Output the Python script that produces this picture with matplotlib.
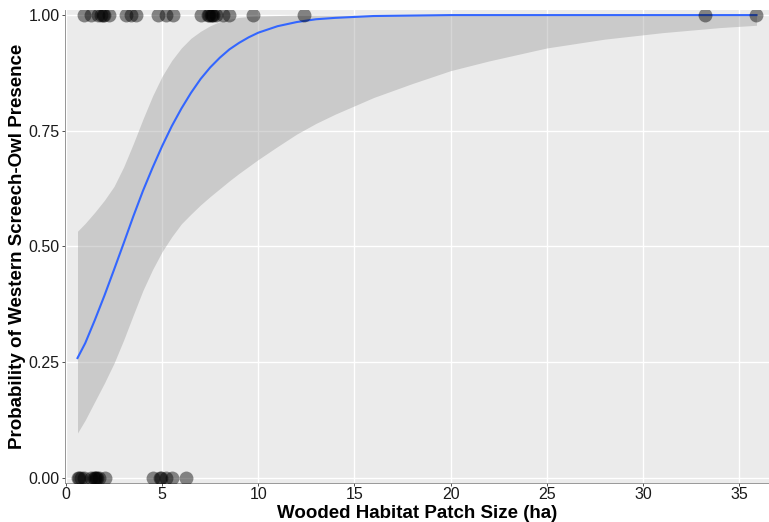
import matplotlib
matplotlib.use("Agg")
import matplotlib.pyplot as plt

# observed presence (1) / absence (0) by patch size (ha)
present_x = [0.96, 1.31, 1.66, 1.83, 1.92, 2.0, 2.26,
             3.13, 3.39, 3.65,
             4.77, 5.2, 5.55,
             7.02, 7.37, 7.45, 7.54, 7.6, 7.63, 7.8, 8.15, 8.49,
             9.71, 12.38, 33.2, 35.9]
absent_x = [0.61, 0.7, 0.78, 0.95, 1.30, 1.45, 1.5, 1.56, 1.6, 1.73, 2.04,
            4.54, 4.89, 4.95, 5.2, 5.51, 6.24]

# fitted logistic curve and 95% band
fit_x = [0.6, 1.0, 1.5, 2.0, 2.5, 3.0, 3.5, 4.0, 4.5, 5.0, 5.5, 6.0, 6.5,
         7.0, 7.5, 8.0, 8.5, 9.0, 9.5, 10.0, 11.0, 12.0, 13.0, 14.0, 16.0,
         18.0, 20.0, 22.0, 25.0, 28.0, 31.0, 34.0, 35.9]
fit_p = [0.259, 0.291, 0.341, 0.394, 0.450, 0.507, 0.565, 0.620, 0.670,
         0.717, 0.760, 0.798, 0.832, 0.862, 0.887, 0.908, 0.926, 0.940,
         0.952, 0.962, 0.976, 0.985, 0.991, 0.994, 0.998,
         0.999, 1.0, 1.0, 1.0, 1.0, 1.0, 1.0, 1.0]
upper_p = [0.533, 0.550, 0.574, 0.600, 0.630, 0.672, 0.722, 0.775, 0.825,
           0.868, 0.902, 0.929, 0.950, 0.965, 0.977, 0.986, 0.991, 0.995,
           0.997, 0.998, 0.999, 1.0, 1.0, 1.0, 1.0,
           1.0, 1.0, 1.0, 1.0, 1.0, 1.0, 1.0, 1.0]
lower_p = [0.097, 0.125, 0.165, 0.205, 0.248, 0.298, 0.352, 0.405, 0.450,
           0.489, 0.521, 0.549, 0.570, 0.590, 0.608, 0.625, 0.642, 0.658,
           0.673, 0.688, 0.716, 0.743, 0.766, 0.786, 0.822,
           0.852, 0.880, 0.901, 0.929, 0.948, 0.962, 0.973, 0.978]

fig = plt.figure(figsize=(7.69, 5.22), dpi=100)
ax = fig.add_axes([65 / 769, 1 - 483 / 522, 704 / 769, 473 / 522])
ax.set_facecolor("#EBEBEB")

ax.fill_between(fit_x, lower_p, upper_p, color="#999999", alpha=0.4,
                linewidth=0, zorder=2)
ax.plot(fit_x, fit_p, color="#3366FF", lw=1.5, zorder=3)
ax.scatter(present_x, [1] * len(present_x), s=100, color="black",
           alpha=0.45, linewidths=0, zorder=4)
ax.scatter(absent_x, [0] * len(absent_x), s=100, color="black",
           alpha=0.45, linewidths=0, zorder=4)

ax.set_xlim(-0.05, 36.55)
ax.set_ylim(-0.011, 1.011)
ax.set_xticks([0, 5, 10, 15, 20, 25, 30, 35])
ax.set_yticks([0, 0.25, 0.5, 0.75, 1.0])
ax.set_yticklabels(["0.00", "0.25", "0.50", "0.75", "1.00"])
ax.grid(True, color="white", lw=1.0, zorder=0)
ax.set_axisbelow(True)

for side in ["top", "right"]:
    ax.spines[side].set_visible(False)
for side in ["left", "bottom"]:
    ax.spines[side].set_color("#888888")
    ax.spines[side].set_linewidth(0.6)

ax.tick_params(colors="#333333", labelsize=11.5, length=2.5, width=0.6,
               labelcolor="#1a1a1a")
ax.tick_params(axis="x", pad=0.5)
ax.tick_params(axis="y", pad=1.5)
for lab in ax.get_xticklabels() + ax.get_yticklabels():
    lab.set_family("Liberation Sans")

ax.set_xlabel("Wooded Habitat Patch Size (ha)", fontsize=13.5,
              fontweight="bold", family="Liberation Sans", va="center")
ax.set_ylabel("Probability of Western Screech-Owl Presence", fontsize=13.5,
              fontweight="bold", family="Liberation Sans", va="center")
ax.xaxis.set_label_coords(0.5, -0.064)
ax.yaxis.set_label_coords(-0.068, 0.5)

fig.savefig("out.png", dpi=100)
